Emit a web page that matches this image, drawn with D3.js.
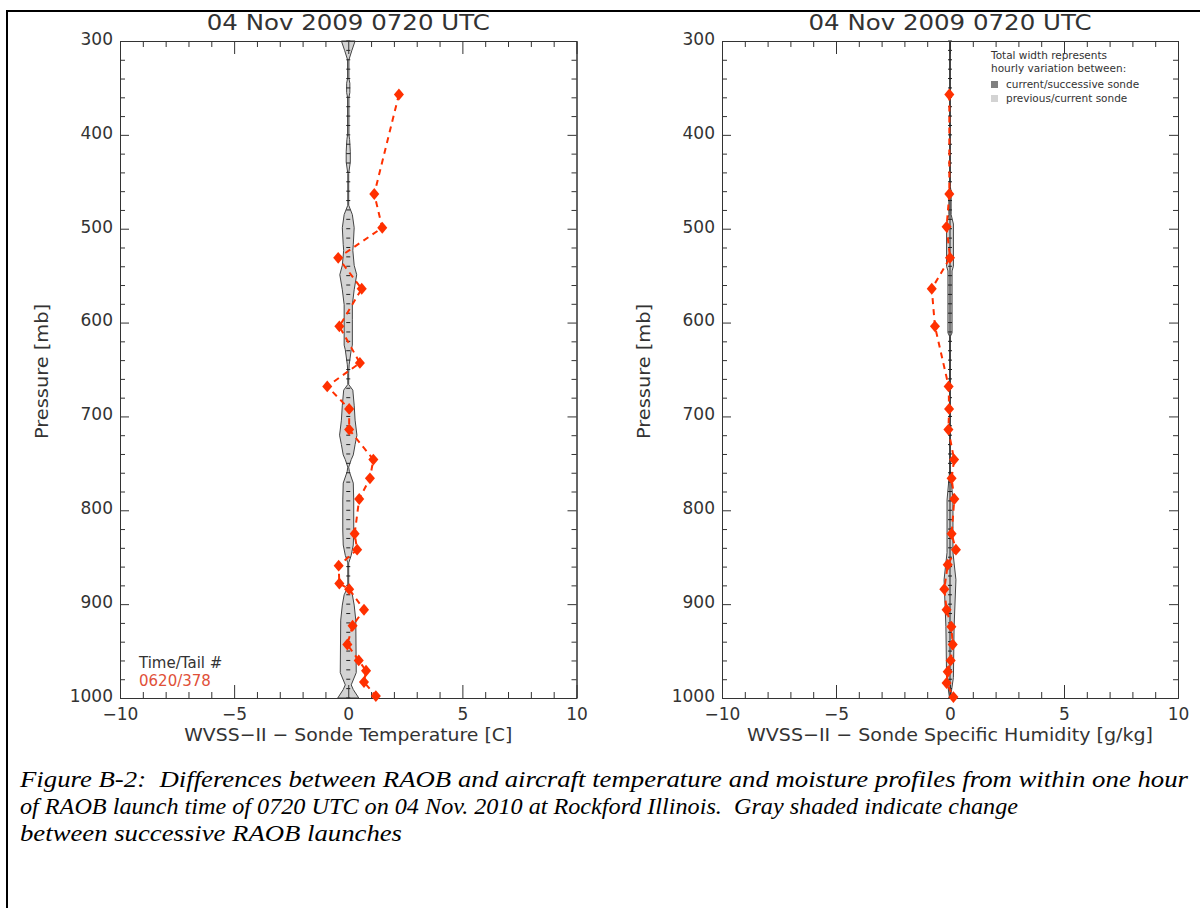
<!DOCTYPE html>
<html><head><meta charset="utf-8">
<script src="https://cdn.jsdelivr.net/npm/d3@7"></script>
<style>
body{margin:0;background:#fff;}
svg text.sans{font-family:"DejaVu Sans",sans-serif;}
svg text.cap{font-family:"Liberation Serif","Times New Roman",Times,serif;font-style:italic;white-space:pre;}
</style></head>
<body>
<svg id="c" width="1200" height="908"></svg>
<script>
// ---------- data ----------
const titleText = "04 Nov 2009 0720 UTC";
const xMajorTicks = [-10, -5, 0, 5, 10];
const xMinorTicks = [-9,-8,-7,-6,-4,-3,-2,-1,1,2,3,4,6,7,8,9];
const yMajorTicks = [300, 400, 500, 600, 700, 800, 900, 1000];
const yMinorTicks = [320,340,360,380,420,440,460,480,520,540,560,580,620,640,660,680,720,740,760,780,820,840,860,880,920,940,960,980];

// aircraft - sonde temperature differences
const tempPressure = [357, 463, 499, 531, 564, 604, 643, 668, 692, 714, 746, 766, 788, 825, 842, 859, 878, 884, 906, 923, 943, 960, 971, 983, 998];
const tempDiff     = [2.22, 1.14, 1.49, -0.44, 0.59, -0.39, 0.51, -0.92, 0.04, 0.04, 1.10, 0.95, 0.48, 0.28, 0.39, -0.42, -0.39, 0.04, 0.69, 0.19, -0.04, 0.46, 0.78, 0.69, 1.21];

// aircraft - sonde specific humidity differences
const qPressure = [357, 463, 498, 531, 564, 604, 668, 692, 714, 746, 766, 788, 825, 842, 858, 884, 906, 924, 943, 960, 972, 984, 999];
const qDiff     = [-0.03, -0.03, -0.15, 0.0, -0.80, -0.66, -0.06, -0.04, -0.07, 0.18, 0.07, 0.19, 0.07, 0.26, -0.10, -0.25, -0.15, 0.06, 0.12, 0.03, -0.10, -0.15, 0.15];

// sonde-to-sonde variation envelope (half width)
const tempBandP    = [300, 310, 320, 340, 345, 355, 360, 400, 405, 418, 429, 441, 475, 485, 499, 517, 523, 539, 549, 565, 581, 597, 624, 629, 645, 654, 666, 672, 688, 704, 720, 730, 741, 746, 754, 759, 771, 789, 821, 837, 848, 856, 882, 890, 901, 917, 973, 986, 991, 1000];
const tempBandHalf = [0.30, 0.16, 0.03, 0.03, 0.07, 0.07, 0.03, 0.03, 0.06, 0.09, 0.09, 0.02, 0.02, 0.18, 0.26, 0.22, 0.20, 0.26, 0.37, 0.26, 0.18, 0.18, 0.18, 0.13, 0.04, 0.02, 0.02, 0.20, 0.26, 0.30, 0.38, 0.30, 0.22, 0.13, 0.02, 0.05, 0.22, 0.24, 0.24, 0.22, 0.13, 0.02, 0.02, 0.18, 0.26, 0.33, 0.35, 0.13, 0.22, 0.46];
const qBandP    = [300, 455, 460, 485, 495, 540, 545, 611, 615, 757, 789, 845, 874, 924, 978, 1000];
const qBandHalf = [0.01, 0.01, 0.05, 0.05, 0.15, 0.15, 0.09, 0.09, 0.01, 0.01, 0.13, 0.13, 0.26, 0.18, 0.15, 0.02];
const bandLevels = d3.range(300, 1001, 10);

const timeTailLabel = "Time/Tail #";
const timeTailValue = "0620/378";
const legendLines = ["Total width represents", "hourly variation between:"];
const legendItems = [{label:"current/successive sonde", color:"#808080"}, {label:"previous/current sonde", color:"#d3d3d3"}];
const captionLines = [
  "Figure B-2:  Differences between RAOB and aircraft temperature and moisture profiles from within one hour",
  "of RAOB launch time of 0720 UTC on 04 Nov. 2010 at Rockford Illinois.  Gray shaded indicate change",
  "between successive RAOB launches"
];

// ---------- drawing ----------
const svg = d3.select("#c");
const ink = "#333";
const red = "#ff3000";

svg.append("rect").attr("x",7).attr("y",11).attr("width",1200).attr("height",1000)
  .attr("fill","none").attr("stroke","#000").attr("stroke-width",2);

const yTop = 41, yBot = 698;

const diamond = {
  draw(ctx, size){
    const h = Math.sqrt(size)/2, w = h*0.85;
    ctx.moveTo(0,-h); ctx.lineTo(w,0); ctx.lineTo(0,h); ctx.lineTo(-w,0); ctx.closePath();
  }
};

const fmtX = d => d < 0 ? "\u2212" + (-d) : String(d);
const fmtY = d => String(d);

function panel(x0, x1, xTitle, xTitleW, pressures, diffs, bandP, bandH, ladder){
  const x = d3.scaleLinear().domain([-10,10]).range([x0,x1]);
  const y = d3.scaleLinear().domain([300,1000]).range([yTop,yBot]);
  const g = svg.append("g");

  // band
  const bandData = bandP.map((p,i)=>({p, h:bandH[i]}));
  g.append("path").datum(bandData)
    .attr("d", d3.area().y(d=>y(d.p)).x0(d=>x(-d.h)).x1(d=>x(d.h)))
    .attr("fill","#d3d3d3").attr("stroke","#444").attr("stroke-width",1);
  if (ladder){
    g.append("line").attr("x1",x(0)).attr("x2",x(0)).attr("y1",y(300)).attr("y2",y(1000))
      .attr("stroke","#222").attr("stroke-width",1);
  }
  g.selectAll("line.lvl").data(bandLevels).join("line").attr("class","lvl")
    .attr("x1",x(0)-2).attr("x2",x(0)+2).attr("y1",d=>y(d)).attr("y2",d=>y(d))
    .attr("stroke","#222").attr("stroke-width",1);

  // axes
  const axisStyle = sel => { sel.selectAll("path,line").attr("stroke",ink); sel.selectAll("text").remove(); };
  const labStyle = s => { s.selectAll("path,line").attr("stroke",ink);
    s.selectAll("text").attr("fill",ink).attr("class","sans").style("font-size","17px"); };
  g.append("g").attr("transform",`translate(0,${yBot})`)
    .call(d3.axisBottom(x).tickValues(xMajorTicks).tickSize(-13).tickSizeOuter(0).tickFormat(fmtX).tickPadding(10))
    .call(labStyle);
  g.append("g").attr("transform",`translate(0,${yBot})`)
    .call(d3.axisBottom(x).tickValues(xMinorTicks).tickSize(-6).tickSizeOuter(0)).call(axisStyle);
  g.append("g").attr("transform",`translate(0,${yTop})`)
    .call(d3.axisTop(x).tickValues(xMajorTicks).tickSize(-13).tickSizeOuter(0)).call(axisStyle);
  g.append("g").attr("transform",`translate(0,${yTop})`)
    .call(d3.axisTop(x).tickValues(xMinorTicks).tickSize(-6).tickSizeOuter(0)).call(axisStyle);
  g.append("g").attr("transform",`translate(${x0},0)`)
    .call(d3.axisLeft(y).tickValues(yMajorTicks).tickSize(-9).tickSizeOuter(0).tickFormat(fmtY).tickPadding(7))
    .call(labStyle)
    .call(s=>s.selectAll("text").attr("dy","0.2em"));
  g.append("g").attr("transform",`translate(${x0},0)`)
    .call(d3.axisLeft(y).tickValues(yMinorTicks).tickSize(-5).tickSizeOuter(0)).call(axisStyle);
  g.append("g").attr("transform",`translate(${x1},0)`)
    .call(d3.axisRight(y).tickValues(yMajorTicks).tickSize(-9).tickSizeOuter(0)).call(axisStyle);
  g.append("g").attr("transform",`translate(${x1},0)`)
    .call(d3.axisRight(y).tickValues(yMinorTicks).tickSize(-5).tickSizeOuter(0)).call(axisStyle);

  // profile
  const pts = pressures.map((p,i)=>({p, v:diffs[i]}));
  g.append("path").datum(pts)
    .attr("d", d3.line().x(d=>x(d.v)).y(d=>y(d.p)))
    .attr("fill","none").attr("stroke",red).attr("stroke-width",2).attr("stroke-dasharray","6,5");
  g.selectAll("path.mk").data(pts).join("path").attr("class","mk")
    .attr("transform",d=>`translate(${x(d.v)},${y(d.p)})`)
    .attr("d", d3.symbol().type(diamond).size(140))
    .attr("fill",red);

  // titles
  g.append("text").attr("class","sans").attr("x",x(0)).attr("y",30).attr("text-anchor","middle")
    .attr("textLength",283).attr("lengthAdjust","spacingAndGlyphs")
    .attr("fill",ink).style("font-size","21px").text(titleText);
  g.append("text").attr("class","sans").attr("x",x(0)).attr("y",741).attr("text-anchor","middle")
    .attr("textLength",xTitleW).attr("lengthAdjust","spacingAndGlyphs")
    .attr("fill",ink).style("font-size","18px").text(xTitle);
  g.append("text").attr("class","sans").attr("transform",`translate(${x0-72},${(yTop+yBot)/2+2}) rotate(-90)`)
    .attr("text-anchor","middle").attr("textLength",135).attr("lengthAdjust","spacingAndGlyphs")
    .attr("fill",ink).style("font-size","18px").text("Pressure [mb]");
  return {x,y,g};
}

const L = panel(120, 576.5, "WVSS\u2212II \u2212 Sonde Temperature [C]", 328, tempPressure, tempDiff, tempBandP, tempBandHalf, false);
const R = panel(722, 1178, "WVSS\u2212II \u2212 Sonde Specific Humidity [g/kg]", 406, qPressure, qDiff, qBandP, qBandHalf, true);

// time / tail
L.g.append("text").attr("class","sans").attr("x",139).attr("y",668).attr("fill",ink).style("font-size","15px").text(timeTailLabel);
L.g.append("text").attr("class","sans").attr("x",139).attr("y",686).attr("fill","#e05038").style("font-size","15px").text(timeTailValue);

// legend
legendLines.forEach((t,i)=>{
  R.g.append("text").attr("class","sans").attr("x",991).attr("y",59+i*13).attr("fill",ink).style("font-size","10.5px").text(t);
});
legendItems.forEach((d,i)=>{
  R.g.append("rect").attr("x",991).attr("y",81+i*14).attr("width",7).attr("height",7).attr("fill",d.color);
  R.g.append("text").attr("class","sans").attr("x",1006).attr("y",88+i*14).attr("fill",ink).style("font-size","10.5px").text(d.label);
});

// caption
const capWidths = [1168, 998, 382];
captionLines.forEach((t,i)=>{
  svg.append("text").attr("class","cap").attr("x",20).attr("y",787+i*27)
    .attr("textLength",capWidths[i]).attr("lengthAdjust","spacingAndGlyphs")
    .style("font-size","24px").attr("fill","#000").text(t);
});
</script>
</body></html>
